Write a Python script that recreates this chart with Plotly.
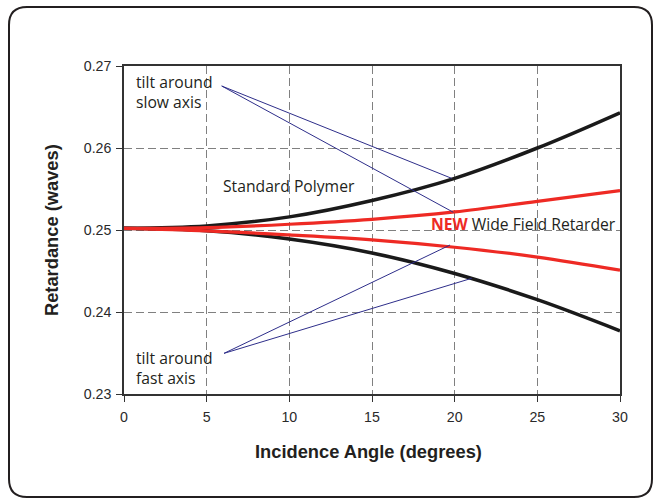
import plotly.graph_objects as go

angles = [0, 5, 10, 15, 20, 25, 30]
std_slow = [0.2502, 0.2505, 0.2516, 0.2536, 0.2563, 0.2600, 0.2643]
std_fast = [0.2502, 0.2499, 0.2489, 0.2472, 0.2447, 0.2415, 0.2377]
new_slow = [0.2502, 0.2503, 0.2507, 0.2513, 0.2522, 0.2535, 0.2548]
new_fast = [0.2502, 0.2499, 0.2494, 0.2488, 0.2479, 0.2467, 0.2451]

x_ticks = [0, 5, 10, 15, 20, 25, 30]
y_ticks = [0.23, 0.24, 0.25, 0.26, 0.27]

# pointer lines (label anchor -> curve)
slow_ptr_start = (5.91, 0.26756)
slow_ptr_ends = [(19.82, 0.2563), (19.92, 0.25216)]
fast_ptr_start = (6.05, 0.23496)
fast_ptr_ends = [(19.72, 0.24817), (21.03, 0.24411)]

W, H = 656, 501
ML, MR, MT, MB = 124, 36, 66, 107
PW, PH = W - ML - MR, H - MT - MB

fig = go.Figure()

for ys, col, w in [(std_slow, "#1a1a1a", 3.5), (std_fast, "#1a1a1a", 3.5),
                   (new_slow, "#ee2a24", 3.2), (new_fast, "#ee2a24", 3.2)]:
    fig.add_trace(go.Scatter(x=angles, y=ys, mode="lines",
                             line=dict(color=col, width=w, shape="spline"),
                             showlegend=False, hoverinfo="skip"))

for start, ends in [(slow_ptr_start, slow_ptr_ends), (fast_ptr_start, fast_ptr_ends)]:
    for e in ends:
        fig.add_trace(go.Scatter(x=[start[0], e[0]], y=[start[1], e[1]], mode="lines",
                                 line=dict(color="#2e2e8a", width=1),
                                 showlegend=False, hoverinfo="skip"))

txt_font = dict(family="Open Sans, sans-serif", size=15.7, color="#231f20")
fig.add_annotation(x=0.6, y=0.26683, text="tilt around<br>slow axis", showarrow=False,
                   xanchor="left", yanchor="middle", align="left", font=txt_font)
fig.add_annotation(x=0.6, y=0.23317, text="tilt around<br>fast axis", showarrow=False,
                   xanchor="left", yanchor="middle", align="left", font=txt_font)
fig.add_annotation(x=5.85, y=0.25536, text="Standard Polymer", showarrow=False,
                   xanchor="left", yanchor="middle", font=txt_font)
fig.add_annotation(x=18.45, y=0.25073,
                   text="<b><span style='color:#ee2a24'>NEW</span></b> Wide Field Retarder",
                   showarrow=False, xanchor="left", yanchor="middle", font=txt_font)

title_font = dict(family="Liberation Sans, Arial, sans-serif", size=18.3, color="#231f20")
fig.add_annotation(xref="paper", yref="paper", x=(51 - ML) / PW, y=(H - MB - 230) / PH,
                   text="<b>Retardance (waves)</b>", textangle=-90, showarrow=False,
                   xanchor="center", yanchor="middle", font=title_font)
fig.add_annotation(xref="paper", yref="paper", x=(368 - ML) / PW, y=(H - MB - 451) / PH,
                   text="<b>Incidence Angle (degrees)</b>", showarrow=False,
                   xanchor="center", yanchor="middle", font=title_font)

# rounded frame around the chart
def px(x):
    return (x - ML) / PW

def py(y):
    return (H - MB - y) / PH

x0, x1, y0, y1, r = 9, 652, 7, 497, 18
path = (f"M {px(x0 + r)} {py(y0)} L {px(x1 - r)} {py(y0)} "
        f"Q {px(x1)} {py(y0)} {px(x1)} {py(y0 + r)} "
        f"L {px(x1)} {py(y1 - r)} Q {px(x1)} {py(y1)} {px(x1 - r)} {py(y1)} "
        f"L {px(x0 + r)} {py(y1)} Q {px(x0)} {py(y1)} {px(x0)} {py(y1 - r)} "
        f"L {px(x0)} {py(y0 + r)} Q {px(x0)} {py(y0)} {px(x0 + r)} {py(y0)} Z")
fig.add_shape(type="path", xref="paper", yref="paper", path=path,
              line=dict(color="#231f20", width=2), layer="above")

tick_font = dict(family="Liberation Sans, Arial, sans-serif", size=14.2, color="#2a2a2a")
grid = dict(showgrid=True, gridcolor="#808080", griddash="8px,4px", gridwidth=1,
            zeroline=False, ticks="outside", ticklen=6, tickcolor="#333333",
            showline=True, linecolor="#333333", linewidth=1.5, mirror=True,
            tickfont=tick_font)
fig.update_xaxes(range=[0, 30], tickvals=x_ticks, ticklabelstandoff=3, **grid)
fig.update_yaxes(range=[0.23, 0.27], tickvals=y_ticks,
                 ticktext=[f"{v:.2f}" for v in y_ticks], ticklabelstandoff=2, **grid)

fig.update_layout(width=W, height=H, margin=dict(l=ML, r=MR, t=MT, b=MB),
                  plot_bgcolor="white", paper_bgcolor="white", showlegend=False)

fig.write_html("out.html", config={"displayModeBar": False},
               post_script="document.body.style.margin='0';")
